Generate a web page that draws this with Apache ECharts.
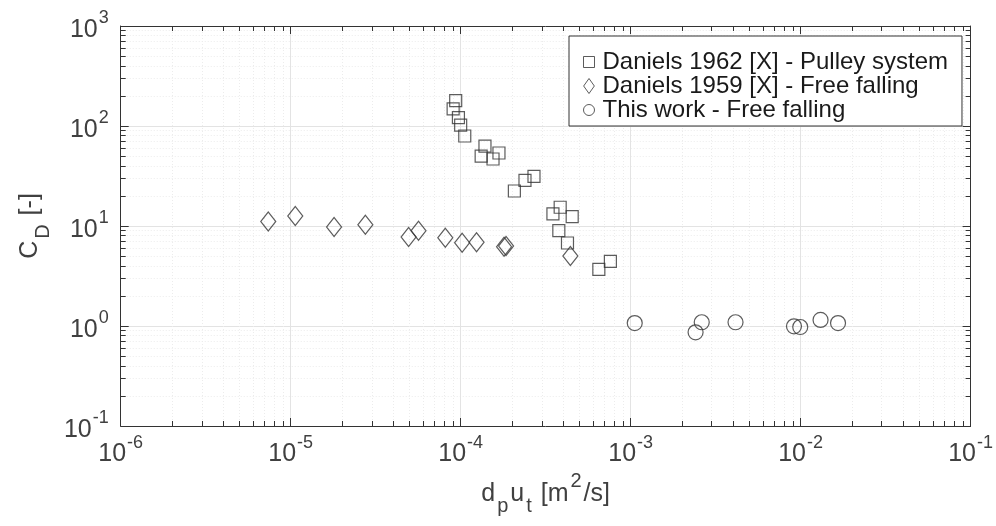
<!DOCTYPE html>
<html>
<head>
<meta charset="utf-8">
<script src="https://cdn.jsdelivr.net/npm/echarts@6/dist/echarts.min.js"></script>
<style>html,body{margin:0;padding:0;background:#fff}#c{width:996px;height:526px}</style>
</head>
<body>
<div id="c"></div>
<script>
// Daniels 1962 [X] - Pulley system (squares)
const pulleyX = [9.35e-5, 9.03e-5, 9.7e-5, 1.0e-4, 1.057e-4, 1.39e-4, 1.32e-4, 1.68e-4, 1.55e-4, 2.70e-4, 2.39e-4, 2.07e-4, 3.85e-4, 3.49e-4, 4.53e-4, 3.78e-4, 4.25e-4, 7.6e-4, 6.5e-4];
const pulleyY = [179, 148, 121, 102, 79.4, 63, 50, 53.7, 46.8, 31.4, 28.6, 22.4, 15.4, 13.2, 12.4, 8.98, 6.76, 4.43, 3.69];
// Daniels 1959 [X] - Free falling (diamonds)
const danielsX = [7.38e-6, 1.064e-5, 1.80e-5, 2.75e-5, 4.94e-5, 5.65e-5, 8.12e-5, 1.02e-4, 1.24e-4, 1.80e-4, 1.85e-4, 4.42e-4];
const danielsY = [11.1, 12.6, 9.77, 10.3, 7.76, 8.98, 7.64, 6.81, 6.87, 6.21, 6.31, 5.01];
// This work - Free falling (circles)
const thisX = [1.057e-3, 2.62e-3, 2.41e-3, 4.14e-3, 9.14e-3, 9.95e-3, 1.31e-2, 1.66e-2];
const thisY = [1.07, 1.09, 0.865, 1.09, 0.993, 0.977, 1.15, 1.07];

const seriesNames = ['Daniels 1962 [X] - Pulley system', 'Daniels 1959 [X] - Free falling', 'This work - Free falling'];
const xRange = [1e-6, 1e-1];
const yRange = [1e-1, 1e3];

const INK = '#333333';
const TXT = '#404040';
const FONT = 'Liberation Sans, Arial';

function pairs(xs, ys) { return xs.map((x, i) => [x, ys[i]]); }
function powLabel(v) {
  const e = Math.round(Math.log10(v));
  return '{b|10}{s|' + e + '}';
}
const labelRich = {
  b: { fontSize: 25, lineHeight: 25, padding: [8, 0, 0, 0], color: TXT, fontFamily: FONT },
  s: { fontSize: 18, lineHeight: 18, padding: [0, 0, 15, 1], color: TXT, fontFamily: FONT }
};
const nameRich = {
  m: { fontSize: 25, lineHeight: 25, padding: [10, 0, 10, 0], color: TXT, fontFamily: FONT },
  sub: { fontSize: 20, lineHeight: 20, padding: [25, 2, 0, 2], color: TXT, fontFamily: FONT },
  sup: { fontSize: 20, lineHeight: 20, padding: [0, 2, 25, 2], color: TXT, fontFamily: FONT }
};

function logAxis(range, main, extra) {
  return Object.assign({
    type: 'log',
    logBase: 10,
    min: range[0],
    max: range[1],
    axisLine: { show: true, onZero: false, lineStyle: { color: INK, width: 1 } },
    axisTick: { show: true, inside: true, length: 8, lineStyle: { color: INK, width: 1 } },
    minorTick: { show: true, splitNumber: 9, length: 5, lineStyle: { color: INK, width: 1 } },
    splitLine: { show: main, lineStyle: { color: '#e3e3e3', width: 1 } },
    minorSplitLine: { show: main, lineStyle: { color: '#ececec', width: 1, type: [1, 2] } },
    axisLabel: main ? { show: true, formatter: powLabel, rich: labelRich, margin: 12 } : { show: false }
  }, extra);
}

const chart = echarts.init(document.getElementById('c'), null, { renderer: 'canvas' });
const markerStyle = { color: 'rgba(0,0,0,0)', borderColor: INK, borderWidth: 1.2 };

chart.setOption({
  animation: false,
  backgroundColor: '#fff',
  grid: { left: 116, right: 22, top: 26, bottom: 100, containLabel: false },
  xAxis: [
    logAxis(xRange, true, {
      position: 'bottom',
      name: '{m|d}{sub|p}{m|u}{sub|t}{m| [m}{sup|2}{m|/s]}',
      nameLocation: 'middle', nameGap: 53,
      nameTextStyle: { rich: nameRich }
    }),
    logAxis(xRange, false, { position: 'top' })
  ],
  yAxis: [
    logAxis(yRange, true, {
      position: 'left',
      name: '{m|C}{sub|D}{m| [-]}',
      nameLocation: 'middle', nameGap: 70,
      nameTextStyle: { rich: nameRich }
    }),
    logAxis(yRange, false, { position: 'right' })
  ],
  legend: {
    orient: 'vertical',
    left: 569, top: 36,
    padding: [14, 14, 4, 14],
    itemGap: 0,
    itemWidth: 11, itemHeight: 15,
    symbolKeepAspect: true,
    backgroundColor: '#fff',
    borderColor: INK, borderWidth: 1,
    selectedMode: false,
    itemStyle: { color: 'rgba(0,0,0,0)', borderColor: INK, borderWidth: 1 },
    textStyle: { fontSize: 24, lineHeight: 23, color: '#1a1a1a', fontFamily: FONT, padding: [0, 0, 0, 3] },
    data: [
      { name: seriesNames[0], icon: 'path://M0,0H10V10H0Z' },
      { name: seriesNames[1], icon: 'path://M5,0L10,7L5,14L0,7Z' },
      { name: seriesNames[2], icon: 'path://M5,0A5,5,0,1,1,5,10A5,5,0,1,1,5,0Z' }
    ]
  },
  series: [
    { name: seriesNames[0], type: 'scatter', symbol: 'rect', symbolSize: [12, 12], itemStyle: markerStyle, data: pairs(pulleyX, pulleyY) },
    { name: seriesNames[1], type: 'scatter', symbol: 'diamond', symbolSize: [15, 19], itemStyle: markerStyle, data: pairs(danielsX, danielsY) },
    { name: seriesNames[2], type: 'scatter', symbol: 'circle', symbolSize: 15, itemStyle: markerStyle, data: pairs(thisX, thisY) }
  ]
});
</script>
</body>
</html>
